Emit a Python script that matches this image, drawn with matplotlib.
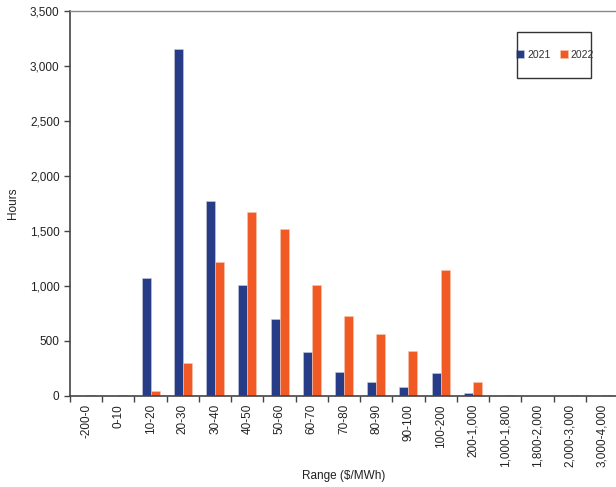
import matplotlib
matplotlib.use('Agg')
import matplotlib.pyplot as plt
import numpy as np
from matplotlib.ticker import FuncFormatter
from matplotlib.patches import Rectangle

plt.rcParams['font.family'] = ['Liberation Sans Narrow', 'Liberation Sans', 'DejaVu Sans']

ranges = ['-200-0', '0-10', '10-20', '20-30', '30-40', '40-50', '50-60', '60-70',
          '70-80', '80-90', '90-100', '100-200', '200-1,000', '1,000-1,800',
          '1,800-2,000', '2,000-3,000', '3,000-4,000']
hours_2021 = [0, 0, 1068, 3155, 1770, 1006, 695, 395, 213, 122, 76, 209, 22, 0, 0, 0, 0]
hours_2022 = [3, 4, 45, 297, 1215, 1670, 1518, 1006, 725, 558, 406, 1145, 122, 3, 0, 3, 2]

BLUE = '#263C87'
ORANGE = '#F15A24'

fig = plt.figure(figsize=(6.16, 4.87), dpi=100)
ax = fig.add_axes([70/616, 1-395.7/487, 548/616, 384.7/487])

x = np.arange(len(ranges))
w = 0.28
ax.bar(x - w/2, hours_2021, w, color=BLUE, edgecolor='#C8CCE0', linewidth=0.4, label='2021')
ax.bar(x + w/2, hours_2022, w, color=ORANGE, edgecolor='#F8C8B0', linewidth=0.4, label='2022')

ax.set_xlim(-0.5, len(ranges) - 0.5)
ax.set_ylim(0, 3500)
ax.set_yticks(np.arange(0, 3501, 500))
ax.yaxis.set_major_formatter(FuncFormatter(lambda v, p: f'{int(v):,}'))

ax.set_xticks(x)
ax.set_xticklabels(ranges, rotation=90)
ax.set_xticks(np.arange(-0.5, len(ranges), 1), minor=True)
ax.tick_params(axis='x', which='major', length=0, pad=6, labelsize=8.5, colors='#222222')
ax.tick_params(axis='x', which='minor', length=4, width=1, color='#444444', direction='out')
ax.tick_params(axis='y', length=4, width=1, color='#444444', labelsize=8.5, labelcolor='#222222')

for s in ['left', 'bottom']:
    ax.spines[s].set_color('#444444')
    ax.spines[s].set_linewidth(1.2)
ax.spines['top'].set_color('#888888')
ax.spines['top'].set_linewidth(1.0)
ax.spines['right'].set_visible(False)

ax.set_ylabel('Hours', fontsize=8.5, color='#222222', labelpad=8)
ax.set_xlabel('Range ($/MWh)', fontsize=8.5, color='#222222')
ax.xaxis.set_label_coords(273.5/548, -74/384.7)

# legend: frameless, with a hand-drawn box (tall padding, tight sides)
leg = ax.legend(loc='center', bbox_to_anchor=(485/548, 1 - 44/384.7), ncol=2,
                fontsize=7.5, frameon=False, handlelength=0.8, handleheight=0.8,
                handletextpad=0.25, columnspacing=0.9, borderpad=0, borderaxespad=0)
for t in leg.get_texts():
    t.set_color('#333333')
fig.patches.append(Rectangle((516.5/616, 1 - 78/487), 74/616, 46/487,
                             transform=fig.transFigure, fill=False,
                             edgecolor='#333333', linewidth=1.0))

fig.savefig('out.png', dpi=100)
